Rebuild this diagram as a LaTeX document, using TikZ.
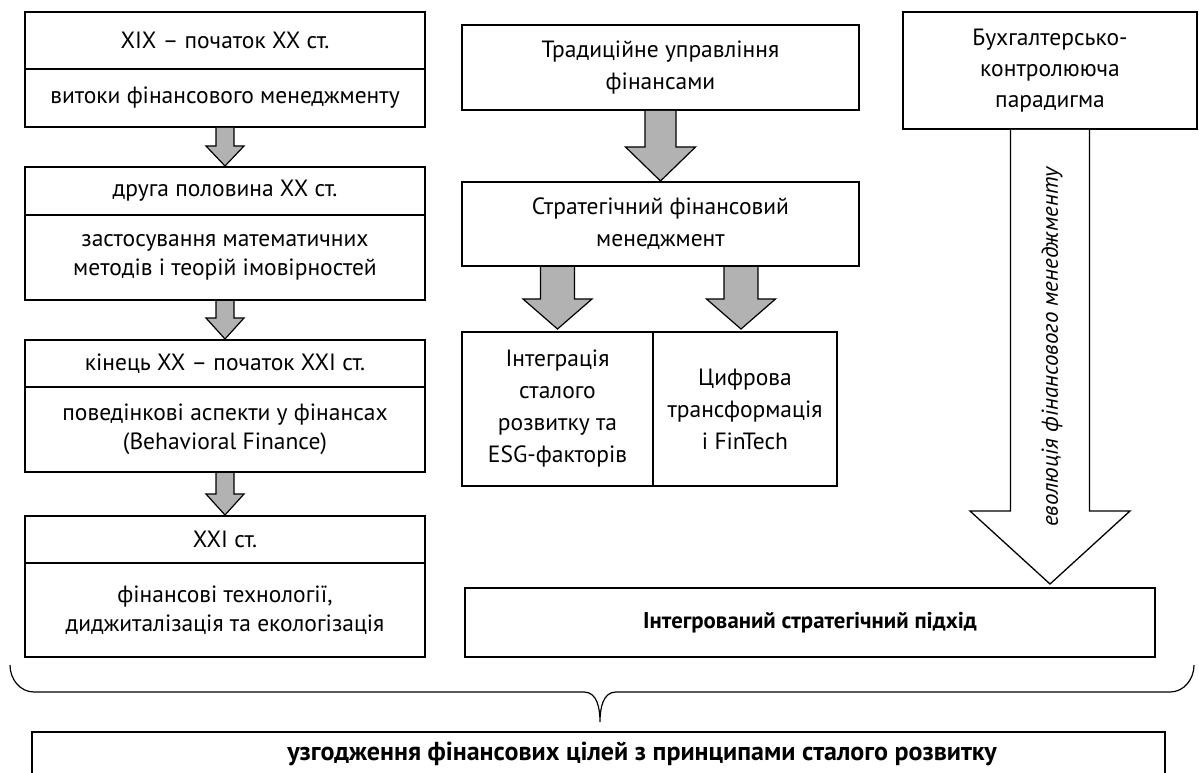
\documentclass[tikz,border=0pt]{standalone}
\usepackage{fontspec}
\setmainfont{PT Sans}
\usetikzlibrary{calc}
\newcommand{\blockarr}[6][]{%
  \draw[#1] ($(#2)+(-#4,0)$) -- ($(#3)+(-#4,-#6)$) -- ($(#3)+(-#5,-#6)$) -- (#3)
    -- ($(#3)+(#5,-#6)$) -- ($(#3)+(#4,-#6)$) -- ($(#2)+(#4,0)$);}
\begin{document}
\begin{tikzpicture}[x=1pt,y=-1pt,
  box/.style={draw, line width=2pt, inner sep=0pt, align=center,
    font=\fontsize{23.5}{29}\selectfont},
  midbox/.style={box, font=\fontsize{23.5}{32}\selectfont},
  rbox/.style={box, font=\fontsize{23.5}{31}\selectfont},
  boldtxt/.style={font=\fontsize{22.8}{25}\selectfont\bfseries},
  goaltxt/.style={font=\fontsize{26}{28}\selectfont\bfseries},
  garrow/.style={draw, line width=1.2pt, fill=black!30, line join=miter},
  warrow/.style={draw, line width=1.3pt, fill=white, line join=miter}]
\useasboundingbox (0,0) rectangle (1199,773);

% left column
\node[box, minimum width=400pt, minimum height=57pt] (l1a) at (225,40.5) {XIX – початок XX ст.};
\node[box, minimum width=400pt, minimum height=58pt] (l1b) at (225,98) {витоки фінансового менеджменту};
\node[box, minimum width=400pt, minimum height=48pt] (l2a) at (225,191) {друга половина XX ст.};
\node[box, minimum width=400pt, minimum height=85pt] (l2b) at (225,257.5) {застосування математичних\\методів і теорій імовірностей};
\node[box, minimum width=400pt, minimum height=47pt] (l3a) at (225,363.5) {кінець XX – початок XXI ст.};
\node[box, minimum width=400pt, minimum height=85pt] (l3b) at (225,429.5) {поведінкові аспекти у фінансах\\(Behavioral Finance)};
\node[box, minimum width=400pt, minimum height=47pt] (l4a) at (225,539.5) {XXI ст.};
\node[box, minimum width=400pt, minimum height=94pt] (l4b) at (225,610) {фінансові технології,\\диджиталізація та екологізація};

\blockarr[garrow]{l1b.south}{l2a.north}{9}{19}{20}
\blockarr[garrow]{l2b.south}{l3a.north}{9}{19}{21}
\blockarr[garrow]{l3b.south}{l4a.north}{9}{19}{21}

% middle column
\node[midbox, minimum width=397pt, minimum height=85pt] (t) at (660.5,67.5) {Традиційне управління\\фінансами};
\node[midbox, minimum width=397pt, minimum height=84pt] (s) at (660.5,224) {Стратегічний фінансовий\\менеджмент};
\node[midbox, minimum width=191pt, minimum height=154pt] (i) at (557.5,409) {Інтеграція\\сталого\\розвитку та\\ESG-факторів};
\node[midbox, minimum width=184pt, minimum height=154pt] (c) at (745,409) {Цифрова\\трансформація\\і FinTech};

\blockarr[garrow]{t.south}{s.north}{15.5}{35}{34}
\coordinate (itip) at ($(i.north)+(0,-2)$);
\coordinate (ctip) at ($(c.north)+(-4,-2)$);
\blockarr[garrow]{s.south -| itip}{itip}{17}{34.5}{30}
\blockarr[garrow]{s.south -| ctip}{ctip}{17}{34.5}{30}

% right column
\node[rbox, minimum width=294pt, minimum height=117pt] (b) at (1050,70.5) {Бухгалтерсько-\\контролююча\\парадигма};
\node[box, boldtxt, minimum width=690pt, minimum height=69pt] (ig) at (810,622.5) {Інтегрований стратегічний підхід};
\coordinate (btip) at ($(ig.north -| b.south)+(0,-3)$);
\blockarr[warrow]{b.south}{btip}{39.5}{80}{73}
\node[rotate=90, font=\fontsize{23}{26}\selectfont\itshape] (evo) at (1052,347) {еволюція фінансового менеджменту};

% brace
\coordinate (brL) at (10,665);
\coordinate (brM) at (600,722);
\coordinate (brR) at (1194,665);
\draw[line width=1.2pt] (brL) to[out=-90,in=180] (34,692) -- (584,692) to[out=0,in=90] (brM)
  to[out=90,in=180] (616,692) -- (1170,692) to[out=0,in=-90] (brR);

% bottom box (open at the bottom)
\draw[line width=2pt] (32,790) -- (32,732) -- (1165,732) -- (1165,790);
\node[goaltxt, inner sep=0pt] (goal) at (642,754) {узгодження фінансових цілей з принципами сталого розвитку};
\end{tikzpicture}
\end{document}
